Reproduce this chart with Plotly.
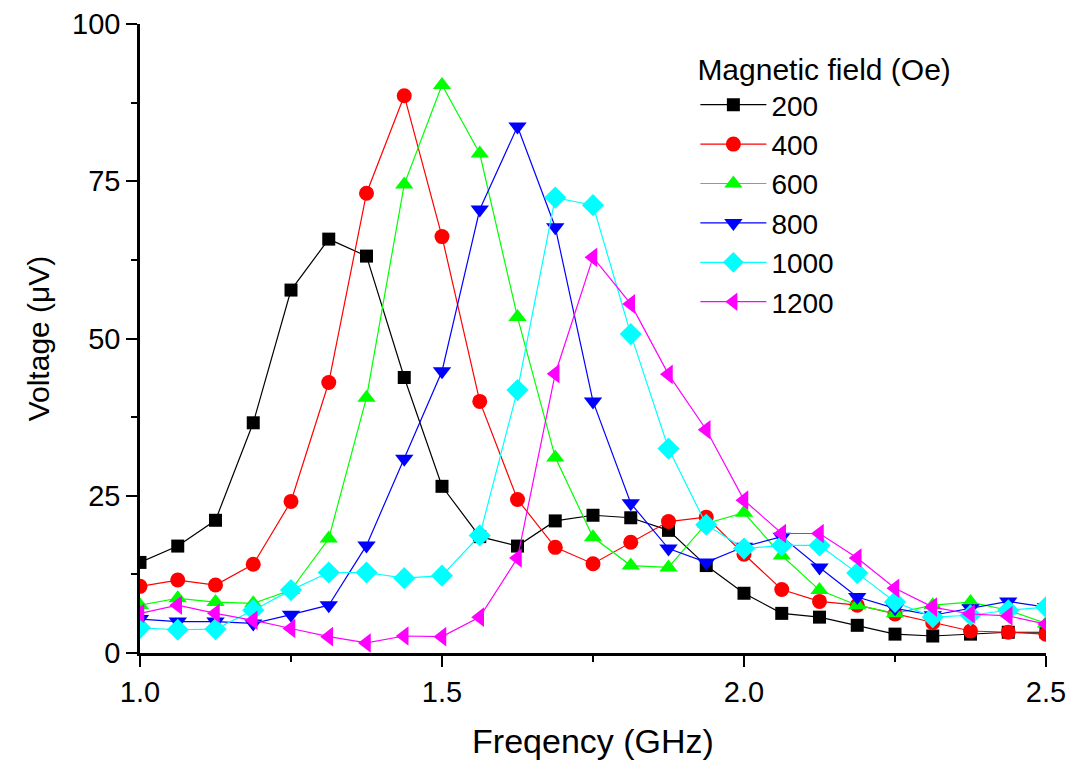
import plotly.graph_objects as go

# frequency points (GHz), 1.0 -> 2.5 in 1/16 steps
freq = [1.0, 1.0625, 1.125, 1.1875, 1.25, 1.3125, 1.375, 1.4375, 1.5, 1.5625,
        1.625, 1.6875, 1.75, 1.8125, 1.875, 1.9375, 2.0, 2.0625, 2.125, 2.1875,
        2.25, 2.3125, 2.375, 2.4375, 2.5]

# voltage (uV) for each magnetic field (Oe)
v200 = [14.4, 17.0, 21.1, 36.6, 57.7, 65.8, 63.1, 43.8, 26.5, 18.5, 17.0, 21.0, 21.9,
        21.5, 19.5, 13.9, 9.5, 6.3, 5.7, 4.4, 3.0, 2.7, 3.0, 3.3, 3.3]
v400 = [10.6, 11.6, 10.8, 14.1, 24.1, 43.0, 73.1, 88.6, 66.2, 40.0, 24.4, 16.8, 14.2,
        17.6, 20.9, 21.6, 15.7, 10.1, 8.2, 7.6, 6.2, 4.8, 3.5, 3.3, 3.0]
v600 = [7.6, 8.7, 8.1, 7.9, 10.0, 18.2, 40.6, 74.5, 90.3, 79.4, 53.4, 31.1, 18.4,
        13.9, 13.6, 20.6, 22.3, 15.5, 10.0, 7.6, 6.3, 7.6, 8.1, 6.8, 4.7]
v800 = [5.4, 5.0, 5.0, 4.7, 6.1, 7.6, 17.1, 30.9, 44.8, 70.5, 83.7, 67.7, 40.0,
        23.8, 16.6, 14.4, 16.9, 18.5, 13.6, 8.9, 7.1, 6.0, 7.1, 8.2, 7.3]
v1000 = [4.0, 3.7, 3.8, 6.8, 10.0, 12.8, 12.8, 11.9, 12.3, 18.7, 41.8, 72.4, 71.2,
         50.7, 32.5, 20.4, 16.6, 17.1, 17.1, 12.7, 8.1, 5.7, 6.0, 6.8, 7.3]
v1200 = [6.3, 7.6, 6.3, 5.2, 3.9, 2.6, 1.6, 2.7, 2.6, 5.7, 15.1, 44.4, 62.9,
         55.5, 44.3, 35.5, 24.3, 19.0, 19.0, 15.1, 10.3, 7.3, 6.2, 5.9, 4.6]

fields = ["200", "400", "600", "800", "1000", "1200"]
series = [v200, v400, v600, v800, v1000, v1200]
colors = ["#000000", "#ff0000", "#00ff00", "#0000ff", "#00ffff", "#ff00ff"]
symbols = ["square", "circle", "triangle-up", "triangle-down", "diamond", "triangle-left"]
sizes = [13, 15, 16, 16, 17, 17]

FONT = "Liberation Sans, Arial, sans-serif"

fig = go.Figure()
for name, ys, col, sym, sz in zip(fields, series, colors, symbols, sizes):
    fig.add_trace(go.Scatter(
        x=freq, y=ys, mode="lines+markers", name=name,
        line=dict(color=col, width=1.2),
        marker=dict(symbol=sym, size=sz, color=col, line=dict(width=0)),
    ))

axis_common = dict(showline=True, linecolor="black", linewidth=2.5, showgrid=False,
                   zeroline=False, tickcolor="black", tickwidth=2, automargin=False)

# page body has an 8px margin, so the figure is a bit smaller than the window
fig.update_layout(
    width=1076, height=752,
    margin=dict(l=132, r=38, t=16, b=107),
    paper_bgcolor="white", plot_bgcolor="white",
    font=dict(family=FONT, color="black", size=29),
    xaxis=dict(range=[1.0, 2.5], dtick=0.5, tick0=1.0, tickformat=".1f",
               ticks="outside", ticklen=11,
               minor=dict(dtick=0.25, ticks="outside", ticklen=6, tickcolor="black", tickwidth=2),
               title=dict(text="Freqency (GHz)", font=dict(size=34), standoff=23),
               tickfont=dict(size=29), **axis_common),
    yaxis=dict(range=[0, 100], dtick=25, ticks="outside", ticklen=11,
               minor=dict(dtick=12.5, ticks="outside", ticklen=6, tickcolor="black", tickwidth=2),
               title=dict(text="Voltage (μV)", font=dict(size=30), standoff=14),
               tickfont=dict(size=29), **axis_common),
    xaxis2=dict(overlaying="x", side="top", range=[1.0, 2.5], dtick=0.5, tick0=1.0,
                ticks="inside", ticklen=11, showticklabels=False,
                minor=dict(dtick=0.25, ticks="inside", ticklen=6, tickcolor="black", tickwidth=2),
                anchor="y", **axis_common),
    yaxis2=dict(overlaying="y", side="right", range=[0, 100], dtick=25,
                ticks="inside", ticklen=11, showticklabels=False,
                minor=dict(dtick=12.5, ticks="inside", ticklen=6, tickcolor="black", tickwidth=2),
                anchor="x", **axis_common),
    legend=dict(x=0.613, y=0.973, xanchor="left", yanchor="top",
                title=dict(text="Magnetic field (Oe)", font=dict(size=30)),
                font=dict(size=28), bgcolor="rgba(0,0,0,0)", itemwidth=66,
                tracegroupgap=0),
    showlegend=True,
)

fig.write_html("out.html")
